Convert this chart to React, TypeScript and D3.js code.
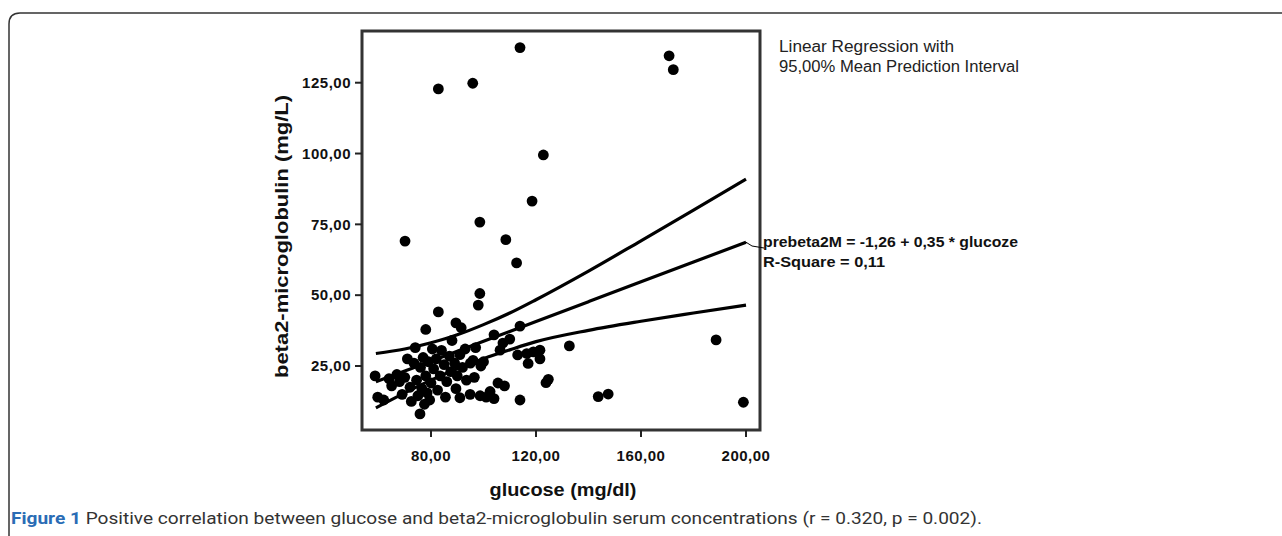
import * as d3 from 'd3'

// glucose (mg/dl) vs beta2-microglobulin (mg/L)
const GLUCOSE = [
  82.8, 95.9, 113.9, 170.7, 172.3, 122.8, 118.5, 98.6, 70.1, 108.5, 112.6, 98.6, 98.0, 82.8, 78.0, 89.5, 91.5,
  58.7, 59.7, 75.8, 113.9, 132.7, 188.6, 199.0, 143.7, 147.5, 124.7, 123.8, 116.5, 119.0, 121.5, 117.0, 121.5,
  91.0, 94.9, 98.7, 102.5, 105.5, 107.4, 106.3, 113.9, 113.0, 110.0, 104.0, 100.0, 96.0, 93.0, 101.0, 108.0, 104.0,
  62.0, 65.0, 67.0, 69.0, 70.0, 72.0, 72.5, 73.5, 74.0, 74.5, 75.0, 76.0, 76.5, 77.0, 77.5, 78.0, 78.5, 79.0,
  79.5, 80.0, 81.0, 82.0, 82.5, 83.5, 84.0, 85.0, 85.5, 86.0, 87.0, 87.5, 88.0, 89.0, 89.5, 90.0, 91.0, 92.0,
  93.5, 95.0, 96.5, 97.0, 99.0, 80.5, 71.0, 68.0, 64.0,
]
const BETA2M = [
  122.8, 124.8, 137.4, 134.5, 129.6, 99.5, 83.2, 75.8, 69.1, 69.6, 61.4, 50.6, 46.5, 44.1, 37.9, 40.2, 38.5,
  21.5, 14.0, 8.1, 13.0, 32.1, 34.2, 12.2, 14.2, 15.1, 20.3, 19.1, 29.4, 30.0, 30.6, 25.9, 27.5,
  13.8, 15.0, 14.5, 16.0, 19.0, 33.1, 30.6, 39.1, 28.9, 34.5, 36.0, 26.5, 27.0, 31.0, 14.0, 18.0, 13.5,
  13.0, 18.0, 22.0, 15.0, 21.0, 17.5, 12.5, 26.0, 31.5, 20.0, 14.5, 24.5, 17.0, 28.0, 11.5, 21.5, 15.5, 26.5,
  13.0, 19.0, 24.0, 27.5, 16.5, 21.5, 30.5, 25.5, 14.0, 19.5, 28.5, 23.0, 34.0, 26.0, 17.0, 21.5, 29.0, 24.5,
  20.0, 26.0, 21.0, 31.5, 25.0, 31.0, 27.5, 19.5, 20.5,
]

// fit line and 95% mean prediction band, read at these glucose values
const FIT_X = [59, 70, 80, 90, 100, 110, 120, 140, 160, 180, 200]
const FIT_MID = [19.4, 23.2, 26.7, 30.2, 33.7, 37.2, 40.7, 47.7, 54.7, 61.7, 68.7]
const FIT_UPPER = [29.4, 31.0, 33.2, 36.0, 39.6, 43.7, 48.4, 58.5, 69.2, 80.0, 91.0]
const FIT_LOWER = [10.2, 15.5, 20.0, 24.0, 27.6, 30.7, 33.6, 37.6, 40.8, 43.7, 46.5]

const X_TICKS = [80, 120, 160, 200]
const Y_TICKS = [25, 50, 75, 100, 125]

const fmt = (v: number) => v.toFixed(2).replace('.', ',')

export default function App() {
  const W = 1282
  const H = 536
  const box = { l: 362, r: 760, t: 31, b: 430 }

  const x = d3.scaleLinear().domain([53.71, 205.33]).range([box.l, box.r])
  const y = d3.scaleLinear().domain([2.41, 143.25]).range([box.b, box.t])

  const line = d3
    .line<number>()
    .x((_, i) => x(FIT_X[i]))
    .y(d => y(d))
    .curve(d3.curveMonotoneX)

  const endX = x(FIT_X[FIT_X.length - 1])
  const endY = y(FIT_MID[FIT_MID.length - 1])
  const bold = { fontFamily: 'Liberation Sans, Arial, sans-serif', fontWeight: 700 }

  return (
    <svg width={W} height={H} style={{ position: 'absolute', left: 0, top: 0, background: '#fff' }}>
      {/* outer figure frame */}
      <path
        d={`M9,${H + 5} L9,24 Q9,13 20,13 L${W + 5},13`}
        fill="none"
        stroke="#333"
        strokeWidth={1.5}
      />

      {/* regression + band */}
      {[FIT_UPPER, FIT_MID, FIT_LOWER].map((s, i) => (
        <path key={i} d={line(s) ?? ''} fill="none" stroke="#000" strokeWidth={3.2} />
      ))}

      {/* points */}
      {GLUCOSE.map((g, i) => (
        <circle key={i} cx={x(g)} cy={y(BETA2M[i])} r={5.4} fill="#000" />
      ))}

      {/* plot box */}
      <rect
        x={box.l}
        y={box.t}
        width={box.r - box.l}
        height={box.b - box.t}
        fill="none"
        stroke="#333"
        strokeWidth={3}
      />

      {/* y axis */}
      {Y_TICKS.map(t => (
        <g key={t}>
          <line x1={box.l - 7} x2={box.l} y1={y(t)} y2={y(t)} stroke="#222" strokeWidth={2} />
          <text
            x={box.l - 11}
            y={y(t)}
            dy="0.35em"
            textAnchor="end"
            fontSize={15}
            letterSpacing={0.5}
            fill="#111"
            style={bold}
          >
            {fmt(t)}
          </text>
        </g>
      ))}

      {/* x axis */}
      {X_TICKS.map(t => (
        <g key={t}>
          <line x1={x(t)} x2={x(t)} y1={box.b} y2={box.b + 7} stroke="#222" strokeWidth={2} />
          <text
            x={x(t)}
            y={box.b + 31}
            textAnchor="middle"
            fontSize={15}
            letterSpacing={0.5}
            fill="#111"
            style={bold}
          >
            {fmt(t)}
          </text>
        </g>
      ))}

      <text
        x={(box.l + box.r) / 2 + 2}
        y={496}
        textAnchor="middle"
        fontSize={19}
        textLength={147}
        lengthAdjust="spacingAndGlyphs"
        fill="#111"
        style={bold}
      >
        glucose (mg/dl)
      </text>
      <text
        transform={`translate(288,${(box.t + box.b) / 2 + 6}) rotate(-90)`}
        textAnchor="middle"
        fontSize={19}
        textLength={283}
        lengthAdjust="spacingAndGlyphs"
        fill="#111"
        style={bold}
      >
        beta2-microglobulin (mg/L)
      </text>

      {/* legend */}
      <g fontFamily="Liberation Sans, Arial, sans-serif" fontSize={16} fill="#222">
        <text x={779} y={52} textLength={175} lengthAdjust="spacingAndGlyphs">Linear Regression with</text>
        <text x={779} y={72} textLength={240} lengthAdjust="spacingAndGlyphs">95,00% Mean Prediction Interval</text>
      </g>

      {/* fit label */}
      <path d={`M${endX},${endY} L752,246 L764,248`} fill="none" stroke="#000" strokeWidth={1} />
      <g fontSize={15.5} fill="#111" style={bold}>
        <text x={763} y={247} textLength={255} lengthAdjust="spacingAndGlyphs">prebeta2M = -1,26 + 0,35 * glucoze</text>
        <text x={763} y={267} textLength={122} lengthAdjust="spacingAndGlyphs">R-Square = 0,11</text>
      </g>

      {/* caption */}
      <text
        x={11}
        y={524}
        fontFamily="Roboto, sans-serif"
        fontSize={17}
        fill="#333"
        textLength={971}
        lengthAdjust="spacingAndGlyphs"
      >
        <tspan fontWeight={700} fill="#2a6cb5">Figure 1</tspan>
        <tspan> Positive correlation between glucose and beta2-microglobulin serum concentrations (r = 0.320, p = 0.002).</tspan>
      </text>
    </svg>
  )
}
